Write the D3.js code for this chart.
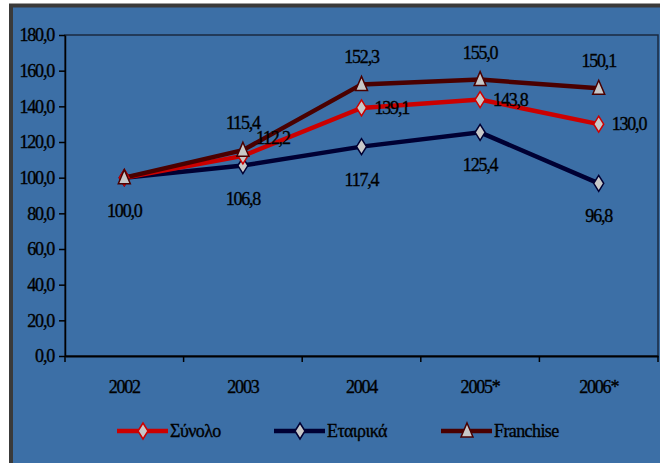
<!DOCTYPE html>
<html>
<head>
<meta charset="utf-8">
<script src="https://cdn.jsdelivr.net/npm/d3@7"></script>
<style>
  body { margin: 0; background: #fff; }
  svg text { font-family: "Liberation Serif", "DejaVu Serif", serif; fill: #000; stroke: #000; stroke-width: 0.35px; }
</style>
</head>
<body>
<div id="chart"></div>
<script>
// 資料
const years = ["2002", "2003", "2004", "2005*", "2006*"];
const synolo = [100.0, 112.2, 139.1, 143.8, 130.0];
const etairika = [100.0, 106.8, 117.4, 125.4, 96.8];
const franchise = [100.0, 115.4, 152.3, 155.0, 150.1];
const seriesNames = ["Σύνολο", "Εταιρικά", "Franchise"];
const yTicks = [0, 20, 40, 60, 80, 100, 120, 140, 160, 180];

const W = 660, H = 463;
const margin = { left: 65, top: 35, right: 2, bottom: 107 };
const fontSize = 18, spacing = -1.2;

const svg = d3.select("#chart").append("svg")
  .attr("width", W).attr("height", H);

// 外框
svg.append("rect").attr("x", 11).attr("y", 5.5).attr("width", W).attr("height", H)
  .attr("fill", "#3c6fa6").attr("stroke", "#3a3a3a").attr("stroke-width", 4);

const x = d3.scaleBand().domain(years).range([margin.left, W - margin.right]);
const y = d3.scaleLinear().domain([0, 180]).range([H - margin.bottom, margin.top]);
const fmt = d => d3.format(".1f")(d).replace(".", ",");

// plot area border
svg.append("rect")
  .attr("x", margin.left).attr("y", margin.top)
  .attr("width", x.range()[1] - margin.left).attr("height", y(0) - margin.top)
  .attr("fill", "none").attr("stroke", "#1a2a40").attr("stroke-width", 1.5);

// y axis
const yAxis = svg.append("g")
  .attr("transform", `translate(${margin.left},0)`)
  .call(d3.axisLeft(y).tickValues(yTicks).tickFormat(fmt).tickSize(6).tickSizeOuter(0));
yAxis.selectAll("path, line").attr("stroke", "#000").attr("stroke-width", 1.5);
yAxis.selectAll("text").attr("font-size", fontSize).attr("letter-spacing", spacing).attr("x", -11);

// x axis
const xAxis = svg.append("g")
  .attr("transform", `translate(0,${y(0)})`)
  .call(d3.axisBottom(x).tickSize(0));
xAxis.select("path").attr("stroke", "#000").attr("stroke-width", 2);
xAxis.selectAll("text").attr("font-size", fontSize).attr("letter-spacing", spacing).attr("dy", 0).attr("y", 37);
// tick marks at band edges
const edges = years.map(d => x(d)).concat([x.range()[1]]);
svg.append("g").selectAll("line").data(edges).join("line")
  .attr("x1", d => d).attr("x2", d => d)
  .attr("y1", y(0)).attr("y2", y(0) + 6)
  .attr("stroke", "#000").attr("stroke-width", 1.5);

const cx = d => x(d) + x.bandwidth() / 2;
const line = d3.line().x((d, i) => cx(years[i])).y(d => y(d));

const series = [
  { name: seriesNames[1], values: etairika, color: "#000033", marker: "diamond" },
  { name: seriesNames[0], values: synolo, color: "#cc0000", marker: "diamond" },
  { name: seriesNames[2], values: franchise, color: "#4a0000", marker: "triangle" }
];

const diamondPath = "M0,-8L5,0L0,8L-5,0Z";
const trianglePath = "M0,-8L6,6L-6,6Z";

series.forEach(s => {
  svg.append("path").datum(s.values)
    .attr("d", line).attr("fill", "none")
    .attr("stroke", s.color).attr("stroke-width", 4.5);
});
series.forEach(s => {
  svg.append("g").selectAll("path").data(s.values).join("path")
    .attr("transform", (d, i) => `translate(${cx(years[i])},${y(d)})`)
    .attr("d", s.marker === "diamond" ? diamondPath : trianglePath)
    .attr("fill", "#c8c8c8").attr("stroke", s.color).attr("stroke-width", 1.5);
});

// data labels
// Εταιρικά: below
svg.append("g").selectAll("text").data(etairika).join("text")
  .attr("x", (d, i) => cx(years[i])).attr("y", d => y(d) + 39)
  .attr("text-anchor", "middle").attr("font-size", fontSize).attr("letter-spacing", spacing)
  .text(fmt);
// Franchise: above (skip 2002)
svg.append("g").selectAll("text").data(franchise.slice(1)).join("text")
  .attr("x", (d, i) => cx(years[i + 1])).attr("y", d => y(d) - 21)
  .attr("text-anchor", "middle").attr("font-size", fontSize).attr("letter-spacing", spacing)
  .text(fmt);
// Σύνολο: right (skip 2002)
svg.append("g").selectAll("text").data(synolo.slice(1)).join("text")
  .attr("x", (d, i) => cx(years[i + 1]) + 13)
  .attr("y", (d, i) => y(d) + 6 - (i === 0 ? 18 : 0))
  .attr("text-anchor", "start").attr("font-size", fontSize).attr("letter-spacing", spacing)
  .text(fmt);

// legend
const legendX = [117, 274, 441];
const legendOrder = [series[1], series[0], series[2]];
const legend = svg.append("g").selectAll("g").data(legendOrder).join("g")
  .attr("transform", (d, i) => `translate(${legendX[i]},431)`);
legend.append("line").attr("x1", 0).attr("x2", 51)
  .attr("stroke", d => d.color).attr("stroke-width", 4.5);
legend.append("path").attr("transform", "translate(26,0)")
  .attr("d", d => d.marker === "diamond" ? diamondPath : trianglePath)
  .attr("fill", "#c8c8c8").attr("stroke", d => d.color).attr("stroke-width", 1.5);
legend.append("text").attr("x", 53).attr("y", 6)
  .attr("font-size", fontSize).attr("letter-spacing", -0.6)
  .text(d => d.name);
</script>
</body>
</html>
